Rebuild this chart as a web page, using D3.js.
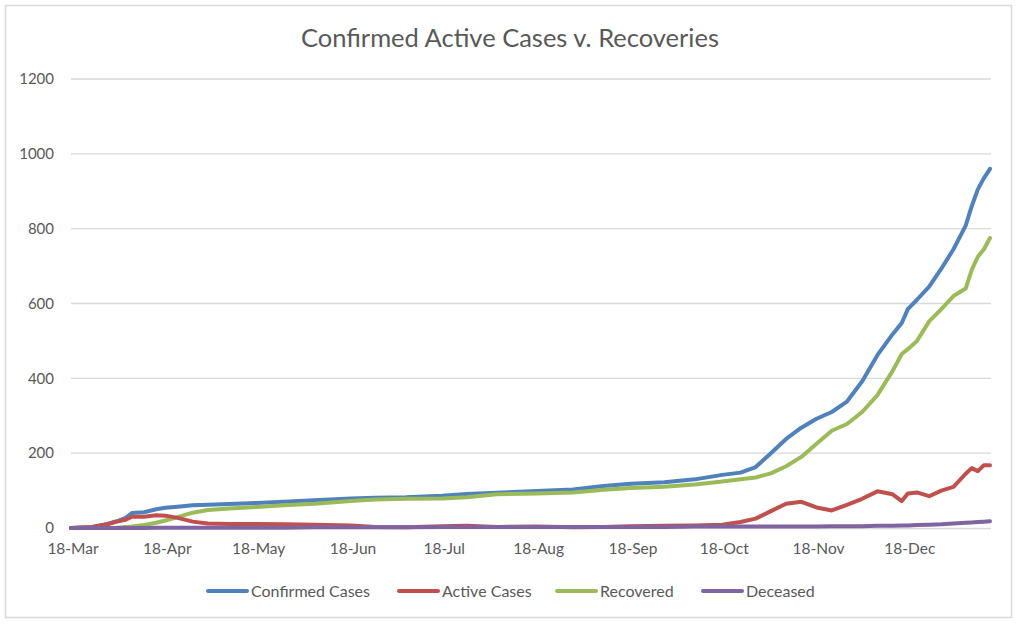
<!DOCTYPE html>
<html>
<head>
<meta charset="utf-8">
<script src="https://cdn.jsdelivr.net/npm/d3@7"></script>
<style>
  html, body { margin: 0; padding: 0; background: #fff; }
  svg { display: block; }
  text { font-family: Lato, "Open Sans", sans-serif; fill: #595959; }
</style>
</head>
<body>
<svg id="chart" width="1024" height="627"></svg>
<script>
const title = "Confirmed Active Cases v. Recoveries";
const dates = ["2020-03-18","2020-03-25","2020-03-30","2020-04-02","2020-04-05","2020-04-07","2020-04-11","2020-04-15","2020-04-18","2020-04-22","2020-04-27","2020-05-02","2020-05-09","2020-05-18","2020-05-27","2020-06-06","2020-06-18","2020-06-26","2020-07-06","2020-07-18","2020-07-26","2020-08-05","2020-08-18","2020-08-30","2020-09-09","2020-09-18","2020-09-29","2020-10-09","2020-10-18","2020-10-24","2020-10-29","2020-11-03","2020-11-08","2020-11-13","2020-11-18","2020-11-23","2020-11-28","2020-12-03","2020-12-08","2020-12-13","2020-12-16","2020-12-18","2020-12-21","2020-12-25","2020-12-29","2021-01-02","2021-01-06","2021-01-08","2021-01-10","2021-01-12","2021-01-14"];
const confirmed = [0,3,11,18,27,40,42,50,54,57,61,62,64,67,70,74,79,81,82,86,91,94,99,103,112,118,122,130,142,148,163,200,238,268,292,310,338,392,462,518,548,585,610,645,693,745,808,860,905,935,960];
const active = [0,3,10,17,22,30,30,34,33,27,17,12,11,11,10,9,7,3,2,5,6,3,4,2,3,5,6,7,9,16,25,45,65,70,55,47,62,78,98,90,72,92,95,85,100,110,145,160,152,168,168];
const recovered = [0,0,0,1,3,4,8,14,20,29,41,48,52,56,61,65,72,76,78,79,82,90,92,95,102,107,110,116,124,130,135,146,165,190,225,260,278,310,355,420,465,478,500,552,585,620,640,690,725,745,775];
const deceased = [0,0,0,0,0,0,0,1,1,1,1,1,1,1,1,2,2,2,2,3,3,3,3,3,3,3,3,4,4,4,4,4,4,4,4,5,5,5,6,6,7,7,8,9,10,12,14,15,16,17,18];
const seriesNames = ["Confirmed Cases","Active Cases","Recovered","Deceased"];
const seriesColors = ["#4F81BD","#C0504D","#9BBB59","#8064A2"];
const yTicks = [0,200,400,600,800,1000,1200];
const xTickDates = ["2020-03-18","2020-04-18","2020-05-18","2020-06-18","2020-07-18","2020-08-18","2020-09-18","2020-10-18","2020-11-18","2020-12-18"];

const parse = d3.timeParse("%Y-%m-%d");
const svg = d3.select("#chart");

// outer border
svg.append("rect").attr("x",5.5).attr("y",5.5).attr("width",1006).attr("height",612)
  .attr("fill","#fff").attr("stroke","#D9D9D9").attr("stroke-width",1.5);

const x = d3.scaleTime().domain([parse("2020-03-18"), parse("2021-01-14")]).range([71, 990]);
const y = d3.scaleLinear().domain([0,1200]).range([528, 79]);

// gridlines
svg.append("g").selectAll("line").data(yTicks.filter(t=>t>0)).join("line")
  .attr("x1",71).attr("x2",991).attr("y1",d=>y(d)).attr("y2",d=>y(d))
  .attr("stroke","#D9D9D9").attr("stroke-width",1.3);

// y axis labels
const yAxis = d3.axisLeft(y).tickValues(yTicks).tickSize(0).tickPadding(0).tickFormat(d3.format("d"));
const gy = svg.append("g").attr("transform","translate(54,0)").call(yAxis);
gy.select(".domain").remove();
gy.selectAll("text").style("font-family","Lato, 'Open Sans', sans-serif").attr("font-size",15).attr("fill","#595959");

// x axis baseline
svg.append("line").attr("x1",71).attr("x2",991).attr("y1",528.5).attr("y2",528.5)
  .attr("stroke","#D9D9D9").attr("stroke-width",1.3);

const xAxis = d3.axisBottom(x).tickValues(xTickDates.map(parse)).tickSize(0).tickPadding(0)
  .tickFormat(d3.timeFormat("%-d-%b"));
const gx = svg.append("g").attr("transform","translate(1.5,543)").call(xAxis);
gx.select(".domain").remove();
gx.selectAll("text").style("font-family","Lato, 'Open Sans', sans-serif").attr("font-size",15.5).attr("fill","#595959");

// lines
const allSeries = [confirmed, active, recovered, deceased];
const line = d3.line().x((d,i)=>x(parse(dates[i]))).y(d=>y(d)).curve(d3.curveLinear);
const order = [0,2,1,3];
order.forEach(k => {
  svg.append("path").datum(allSeries[k]).attr("d", line)
    .attr("fill","none").attr("stroke",seriesColors[k]).attr("stroke-width",4)
    .attr("stroke-linejoin","round").attr("stroke-linecap","round");
});

// title
svg.append("text").attr("x",510).attr("y",47).attr("text-anchor","middle")
  .attr("font-size",25.5).text(title);

// legend
const legendX = [207, 398, 556, 702];
const lg = svg.append("g");
seriesNames.forEach((n,i)=>{
  lg.append("line").attr("x1",legendX[i]+1).attr("x2",legendX[i]+40).attr("y1",591).attr("y2",591)
    .attr("stroke",seriesColors[i]).attr("stroke-width",4).attr("stroke-linecap","round");
  lg.append("text").attr("x",legendX[i]+44).attr("y",596.5).attr("font-size",16).text(n);
});
</script>
</body>
</html>
